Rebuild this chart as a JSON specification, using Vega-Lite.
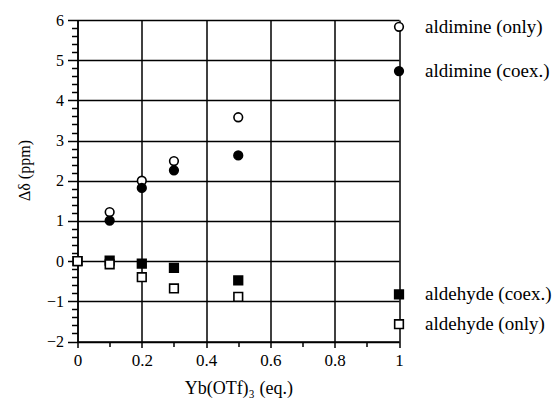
{
  "$schema": "https://vega.github.io/schema/vega-lite/v6.json",
  "width": 321.5,
  "height": 321.5,
  "autosize": {"type": "none"},
  "padding": {"left": 77.5, "top": 20, "right": 154, "bottom": 64.5},
  "background": "white",
  "config": {
    "view": {"stroke": null},
    "font": "Liberation Serif, Times New Roman, DejaVu Serif, serif",
    "axis": {
      "domainColor": "black", "domainWidth": 1.5,
      "tickColor": "black", "tickWidth": 1.5,
      "gridColor": "black", "gridOpacity": 1, "gridWidth": 1.5,
      "labelColor": "black", "labelFont": "Liberation Serif, Times New Roman, DejaVu Serif, serif", "labelFontSize": 17, "labelFlush": false,
      "titleColor": "black", "titleFont": "Liberation Serif, Times New Roman, DejaVu Serif, serif", "titleFontSize": 17, "titleFontWeight": "normal"
    }
  },
  "data": {
    "values": [
      {"series": "aldimine (only)", "x": 0.1, "y": 1.22},
      {"series": "aldimine (only)", "x": 0.2, "y": 2.0},
      {"series": "aldimine (only)", "x": 0.3, "y": 2.49},
      {"series": "aldimine (only)", "x": 0.5, "y": 3.58},
      {"series": "aldimine (only)", "x": 1.0, "y": 5.83},
      {"series": "aldimine (coex.)", "x": 0.1, "y": 1.01},
      {"series": "aldimine (coex.)", "x": 0.2, "y": 1.82},
      {"series": "aldimine (coex.)", "x": 0.3, "y": 2.26},
      {"series": "aldimine (coex.)", "x": 0.5, "y": 2.63},
      {"series": "aldimine (coex.)", "x": 1.0, "y": 4.73},
      {"series": "aldehyde (coex.)", "x": 0.0, "y": 0.0},
      {"series": "aldehyde (coex.)", "x": 0.1, "y": 0.01},
      {"series": "aldehyde (coex.)", "x": 0.2, "y": -0.06},
      {"series": "aldehyde (coex.)", "x": 0.3, "y": -0.17},
      {"series": "aldehyde (coex.)", "x": 0.5, "y": -0.48},
      {"series": "aldehyde (coex.)", "x": 1.0, "y": -0.83},
      {"series": "aldehyde (only)", "x": 0.0, "y": 0.0},
      {"series": "aldehyde (only)", "x": 0.1, "y": -0.08},
      {"series": "aldehyde (only)", "x": 0.2, "y": -0.4},
      {"series": "aldehyde (only)", "x": 0.3, "y": -0.68},
      {"series": "aldehyde (only)", "x": 0.5, "y": -0.89},
      {"series": "aldehyde (only)", "x": 1.0, "y": -1.57}
    ]
  },
  "resolve": {"axis": {"x": "independent", "y": "independent"}},
  "layer": [
    {
      "mark": {"type": "point", "opacity": 0},
      "encoding": {
        "x": {"field": "x", "type": "quantitative",
          "scale": {"domain": [0, 1], "nice": false, "zero": false},
          "axis": {"orient": "bottom", "values": [0.1, 0.3, 0.5, 0.7, 0.9], "labels": false, "domain": false, "grid": false, "tickSize": 5, "title": null}},
        "y": {"field": "y", "type": "quantitative",
          "scale": {"domain": [-2, 6], "nice": false, "zero": false},
          "axis": {"orient": "left", "values": [-1.8, -1.6, -1.4, -1.2, -0.8, -0.6, -0.4, -0.2, 0.2, 0.4, 0.6, 0.8, 1.2, 1.4, 1.6, 1.8, 2.2, 2.4, 2.6, 2.8, 3.2, 3.4, 3.6, 3.8, 4.2, 4.4, 4.6, 4.8, 5.2, 5.4, 5.6, 5.8], "labels": false, "domain": false, "grid": false, "tickSize": 6, "title": null}}
      }
    },
    {
      "mark": {"type": "point", "stroke": "black", "strokeWidth": 1.6, "opacity": 1},
      "encoding": {
        "x": {"field": "x", "type": "quantitative",
          "scale": {"domain": [0, 1], "nice": false, "zero": false},
          "axis": {"orient": "bottom", "values": [0, 0.2, 0.4, 0.6, 0.8, 1], "format": "~g", "grid": true, "tickSize": 6, "labelPadding": 5, "title": "Yb(OTf)₃ (eq.)", "titleFontSize": 18, "titlePadding": 11}},
        "y": {"field": "y", "type": "quantitative",
          "scale": {"domain": [-2, 6], "nice": false, "zero": false},
          "axis": {"orient": "left", "values": [-2, -1, 0, 1, 2, 3, 4, 5, 6], "format": "~g", "grid": true, "tickSize": 10, "labelPadding": 4, "labelFontSize": 16, "title": "Δδ (ppm)", "titleFontSize": 16, "titleX": -45, "titleY": 150, "titleBaseline": "bottom"}},
        "fill": {"field": "series", "type": "nominal", "legend": null,
          "scale": {"domain": ["aldimine (only)", "aldimine (coex.)", "aldehyde (coex.)", "aldehyde (only)"], "range": ["white", "black", "black", "white"]}},
        "shape": {"field": "series", "type": "nominal", "legend": null,
          "scale": {"domain": ["aldimine (only)", "aldimine (coex.)", "aldehyde (coex.)", "aldehyde (only)"], "range": ["circle", "circle", "square", "square"]}},
        "size": {"field": "series", "type": "nominal", "legend": null,
          "scale": {"domain": ["aldimine (only)", "aldimine (coex.)", "aldehyde (coex.)", "aldehyde (only)"], "range": [75, 75, 90, 90]}}
      }
    },
    {
      "transform": [{"filter": "datum.x == 1"}],
      "mark": {"type": "text", "align": "left", "baseline": "middle", "dx": 26, "fontSize": 19, "font": "Liberation Serif, Times New Roman, DejaVu Serif, serif", "color": "black"},
      "encoding": {
        "x": {"field": "x", "type": "quantitative", "axis": null},
        "y": {"field": "y", "type": "quantitative", "axis": null},
        "text": {"field": "series", "type": "nominal"}
      }
    }
  ]
}
